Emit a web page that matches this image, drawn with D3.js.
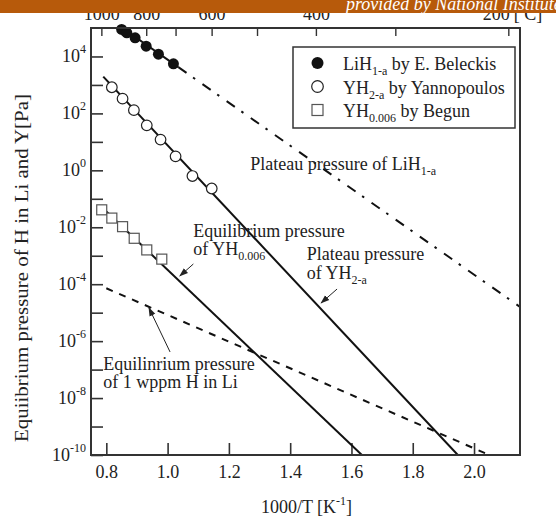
<!DOCTYPE html>
<html>
<head>
<meta charset="utf-8">
<script src="https://cdn.jsdelivr.net/npm/d3@7"></script>
<style>
  body { margin: 0; background: #fff; }
  text { font-family: "Liberation Serif", "Times New Roman", serif; fill: #222; }
</style>
</head>
<body>
<svg id="chart" width="556" height="517"></svg>
<script>
// values: x = 1000/T [1/K], y = pressure [Pa]
const lihX = [0.850, 0.867, 0.894, 0.930, 0.970, 1.019];
const lihP = [8.9e4, 6.8e4, 4.5e4, 2.3e4, 1.2e4, 5.5e3];

const yh2X = [0.818, 0.853, 0.890, 0.932, 0.977, 1.026, 1.081, 1.144];
const yh2P = [8.3e2, 3.3e2, 1.3e2, 38, 12, 3.1, 0.63, 0.23];

const yh006X = [0.785, 0.818, 0.853, 0.891, 0.932, 0.981];
const yh006P = [4.1e-2, 2.1e-2, 1.05e-2, 4.1e-3, 1.6e-3, 7.6e-4];

// fitted lines as drawn in the figure
const lihSolidX = [0.852, 1.035];
const lihSolidP = [1e5, 4.2e3];
const lihDashX = [1.035, 2.15];
const lihDashP = [4.2e3, 1.6e-5];
const yh2LineX = [0.79, 1.947];
const yh2LineP = [1950, 1e-10];
const yh006LineX = [0.80, 1.634];
const yh006LineP = [3.6e-2, 1e-10];
const wppmLineX = [0.80, 2.05];
const wppmLineP = [7.2e-5, 1e-10];

// ticks
const xTicks = [0.8, 1.0, 1.2, 1.4, 1.6, 1.8, 2.0];
const yTickExp = [-10, -9, -8, -7, -6, -5, -4, -3, -2, -1, 0, 1, 2, 3, 4];
const yLabelExp = [-10, -8, -6, -4, -2, 0, 2, 4];
const tempTicks = [1000, 900, 800, 700, 600, 500, 400, 300, 200];
const tempLabels = [1000, 800, 600, 400, 200];

const width = 556, height = 517;
const plot = { left: 91, right: 520, top: 28, bottom: 455 };

const svg = d3.select('#chart');

const x = d3.scaleLinear().domain([0.75, 2.15]).range([plot.left, plot.right]);
const y = d3.scaleLog().domain([1e-10, 1e5]).range([plot.bottom, plot.top]);

svg.append('defs').append('clipPath').attr('id', 'clip')
  .append('rect')
  .attr('x', plot.left).attr('y', plot.top)
  .attr('width', plot.right - plot.left).attr('height', plot.bottom - plot.top);

const arrow = svg.select('defs').append('marker')
  .attr('id', 'arrow')
  .attr('viewBox', '0 0 10 10')
  .attr('refX', 9).attr('refY', 5)
  .attr('markerWidth', 9).attr('markerHeight', 9)
  .attr('markerUnits', 'userSpaceOnUse')
  .attr('orient', 'auto');
arrow.append('path').attr('d', 'M0,1.5 L10,5 L0,8.5 Z').attr('fill', '#222');

// bottom axis
const xAxis = svg.append('g')
  .attr('transform', `translate(0,${plot.bottom})`)
  .call(d3.axisBottom(x).tickValues(xTicks).tickSizeInner(-12).tickSizeOuter(0)
    .tickPadding(10).tickFormat(d3.format('.1f')));
xAxis.select('.domain').remove();
xAxis.selectAll('line').attr('stroke', '#333').attr('stroke-width', 1.6);
xAxis.selectAll('text').attr('font-size', 18).attr('font-family', 'Liberation Serif').attr('fill', '#222');

// left axis (every decade, labels on even ones)
const yAxis = svg.append('g')
  .attr('transform', `translate(${plot.left},0)`)
  .call(d3.axisLeft(y).tickValues(yTickExp.map(e => Math.pow(10, e)))
    .tickSizeInner(-12).tickSizeOuter(0).tickFormat(''));
yAxis.select('.domain').remove();
yAxis.selectAll('line').attr('stroke', '#333').attr('stroke-width', 1.6);

const yLab = svg.append('g').selectAll('text')
  .data(yLabelExp)
  .enter().append('text')
  .attr('x', plot.left - 5)
  .attr('y', d => y(Math.pow(10, d)) + 6)
  .attr('text-anchor', 'end')
  .attr('font-size', 18);
yLab.append('tspan').text('10');
yLab.append('tspan').attr('dy', -9).attr('font-size', 12).text(d => d);

// top axis: temperature in C
const tempX = t => x(1000 / (t + 273.15));
svg.append('g').selectAll('line')
  .data(tempTicks)
  .enter().append('line')
  .attr('x1', tempX).attr('x2', tempX)
  .attr('y1', plot.top).attr('y2', plot.top + 8)
  .attr('stroke', '#333').attr('stroke-width', 1.4);

svg.append('g').selectAll('text')
  .data(tempLabels)
  .enter().append('text')
  .attr('x', d => d === 200 ? tempX(d) + 1 : tempX(d))
  .attr('y', 20)
  .attr('text-anchor', d => d === 200 ? 'end' : 'middle')
  .attr('font-size', 18)
  .text(d => d);
svg.append('text')
  .attr('x', tempX(200) + 5).attr('y', 20)
  .attr('font-size', 18)
  .text('[ C]');

// lines
const lineGen = d3.line().x(d => x(d[0])).y(d => y(d[1]));
const lines = svg.append('g').attr('clip-path', 'url(#clip)');

lines.append('path').datum(d3.zip(lihSolidX, lihSolidP))
  .attr('d', lineGen).attr('fill', 'none').attr('stroke', '#111').attr('stroke-width', 2);
lines.append('path').datum(d3.zip(lihDashX, lihDashP))
  .attr('d', lineGen).attr('fill', 'none').attr('stroke', '#111').attr('stroke-width', 2)
  .attr('stroke-dasharray', '10,8,2.5,9');
lines.append('path').datum(d3.zip(yh2LineX, yh2LineP))
  .attr('d', lineGen).attr('fill', 'none').attr('stroke', '#111').attr('stroke-width', 2);
lines.append('path').datum(d3.zip(yh006LineX, yh006LineP))
  .attr('d', lineGen).attr('fill', 'none').attr('stroke', '#111').attr('stroke-width', 2);
lines.append('path').datum(d3.zip(wppmLineX, wppmLineP))
  .attr('d', lineGen).attr('fill', 'none').attr('stroke', '#111').attr('stroke-width', 2)
  .attr('stroke-dasharray', '7,7');

// markers
svg.append('g').selectAll('rect')
  .data(d3.zip(yh006X, yh006P))
  .enter().append('rect')
  .attr('x', d => x(d[0]) - 5).attr('y', d => y(d[1]) - 5)
  .attr('width', 10).attr('height', 10)
  .attr('fill', '#fff').attr('stroke', '#555').attr('stroke-width', 1.2);

svg.append('g').selectAll('circle')
  .data(d3.zip(yh2X, yh2P))
  .enter().append('circle')
  .attr('cx', d => x(d[0])).attr('cy', d => y(d[1])).attr('r', 5.3)
  .attr('fill', '#fff').attr('stroke', '#222').attr('stroke-width', 1.2);

svg.append('g').selectAll('circle')
  .data(d3.zip(lihX, lihP))
  .enter().append('circle')
  .attr('cx', d => x(d[0])).attr('cy', d => y(d[1])).attr('r', 5.5)
  .attr('fill', '#111');

// frame
svg.append('rect')
  .attr('x', plot.left).attr('y', plot.top)
  .attr('width', plot.right - plot.left).attr('height', plot.bottom - plot.top)
  .attr('fill', 'none').attr('stroke', '#333').attr('stroke-width', 2);

// annotations (positions in data units)
function note(px, py, parts) {
  const t = svg.append('text').attr('x', x(px)).attr('y', y(py)).attr('font-size', 18);
  parts.forEach(p => {
    if (typeof p === 'string') t.append('tspan').text(p);
    else t.append('tspan').attr('dy', p.dy).attr('font-size', p.size || 12).text(p.text);
  });
  return t;
}
note(1.27, 1.03, ['Plateau pressure of LiH', { text: '1-a', dy: 5 }]);
note(1.084, Math.pow(10, -2.33), ['Equilibrium pressure']);
note(1.084, Math.pow(10, -2.97), ['of YH', { text: '0.006', dy: 5 }]);
note(1.454, Math.pow(10, -3.15), ['Plateau pressure']);
note(1.454, Math.pow(10, -3.81), ['of YH', { text: '2-a', dy: 5 }]);
note(0.79, Math.pow(10, -7.01), ['Equilinrium pressure']);
note(0.79, Math.pow(10, -7.66), ['of 1 wppm H in Li']);

const arrows = [
  [1.084, -3.29, 1.040, -3.71],
  [1.553, -4.17, 1.501, -4.66],
  [1.008, -6.38, 0.939, -4.83]
];
svg.append('g').selectAll('line')
  .data(arrows)
  .enter().append('line')
  .attr('x1', d => x(d[0])).attr('y1', d => y(Math.pow(10, d[1])))
  .attr('x2', d => x(d[2])).attr('y2', d => y(Math.pow(10, d[3])))
  .attr('stroke', '#222').attr('stroke-width', 1)
  .attr('marker-end', 'url(#arrow)');

// legend
const legend = svg.append('g');
legend.append('rect')
  .attr('x', 293).attr('y', 47).attr('width', 222).attr('height', 81)
  .attr('fill', '#fff').attr('stroke', '#333').attr('stroke-width', 1.5);
const rows = [
  { kind: 'filled', name: 'LiH', sub: '1-a', rest: ' by E. Beleckis' },
  { kind: 'open', name: 'YH', sub: '2-a', rest: ' by Yannopoulos' },
  { kind: 'square', name: 'YH', sub: '0.006', rest: ' by Begun' }
];
rows.forEach((r, i) => {
  const cy = 63 + i * 23.5;
  if (r.kind === 'filled') {
    legend.append('circle').attr('cx', 317.5).attr('cy', cy).attr('r', 6).attr('fill', '#111');
  } else if (r.kind === 'open') {
    legend.append('circle').attr('cx', 317.5).attr('cy', cy).attr('r', 5.8)
      .attr('fill', '#fff').attr('stroke', '#222').attr('stroke-width', 1.2);
  } else {
    legend.append('rect').attr('x', 312).attr('y', cy - 5.5).attr('width', 11).attr('height', 11)
      .attr('fill', '#fff').attr('stroke', '#555').attr('stroke-width', 1.2);
  }
  const t = legend.append('text').attr('x', 343).attr('y', cy + 7).attr('font-size', 18);
  t.append('tspan').text(r.name);
  t.append('tspan').attr('dy', 5).attr('font-size', 12).text(r.sub);
  t.append('tspan').attr('dy', -5).text(r.rest);
});

// axis titles
const xt = svg.append('text')
  .attr('x', (plot.left + plot.right) / 2 + 1).attr('y', 513)
  .attr('text-anchor', 'middle').attr('font-size', 18);
xt.append('tspan').text('1000/T [K');
xt.append('tspan').attr('dy', -8).attr('font-size', 12).text('-1');
xt.append('tspan').attr('dy', 8).text(']');

// the source figure is a little taller than wide, so this title runs longer
svg.append('text')
  .attr('transform', 'translate(28,268) rotate(-90) scale(1.13,1)')
  .attr('text-anchor', 'middle').attr('font-size', 18.5)
  .text('Equiibrium pressure of H in Li and Y[Pa]');

// banner strip at the top of the page
svg.append('rect').attr('x', 0).attr('y', 0).attr('width', width).attr('height', 13).attr('fill', '#b75a0b');
svg.append('text')
  .attr('x', 346).attr('y', 9.5)
  .attr('font-family', 'Liberation Sans, Arial, sans-serif')
  .attr('font-style', 'italic').attr('font-size', 18)
  .style('fill', '#fff')
  .text('provided by National Institute');
</script>
</body>
</html>
